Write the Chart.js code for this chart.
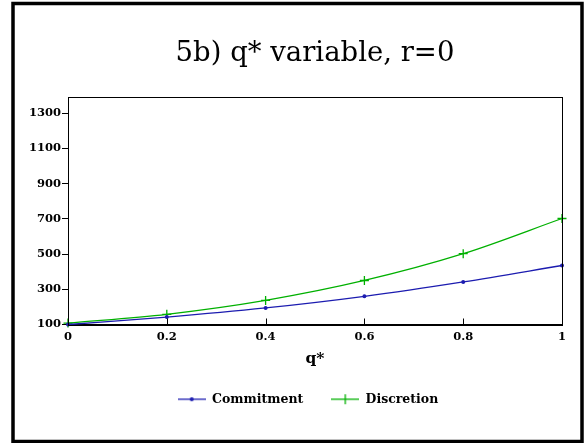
<!DOCTYPE html>
<html>
<head>
<meta charset="utf-8">
<script src="https://cdn.jsdelivr.net/npm/chart.js@4/dist/chart.umd.min.js"></script>
<style>
  html, body { margin: 0; padding: 0; background: #fff; }
  #wrap { width: 585px; height: 443px; }
</style>
</head>
<body>
<div id="wrap"><canvas id="chart" width="585" height="443"></canvas></div>
<script>
// данные
const qValues = [0, 0.2, 0.4, 0.6, 0.8, 1];
const commitment = [100, 142, 194, 260, 342, 435];
const discretion = [108, 158, 237, 350, 502, 702];
const xTicks = [0, 0.2, 0.4, 0.6, 0.8, 1];
const yTicks = [100, 300, 500, 700, 900, 1100, 1300];

const BLUE = '#1c1cb0';
const GREEN = '#00b000';
const SERIF = "'DejaVu Serif', 'Liberation Serif', serif";

// значок для легенды: линия с маркером
function legendIcon(color, marker) {
  const c = document.createElement('canvas');
  c.width = 28;
  c.height = 12;
  const g = c.getContext('2d');
  g.strokeStyle = color;
  g.lineWidth = 1.3;
  g.beginPath();
  g.moveTo(0, 6);
  g.lineTo(28, 6);
  g.stroke();
  if (marker === 'dot') {
    g.fillStyle = color;
    g.beginPath();
    g.arc(14, 6, 2, 0, Math.PI * 2);
    g.fill();
  } else {
    g.beginPath();
    g.moveTo(14, 1);
    g.lineTo(14, 11);
    g.stroke();
  }
  return c;
}

const framePlugin = {
  id: 'frame',
  afterLayout(chart) {
    // легенда в оригинале чуть левее центра области графика
    chart.legend.left -= 7;
    chart.legend.right -= 7;
  },
  beforeDraw(chart) {
    const ctx = chart.ctx;
    ctx.save();
    ctx.fillStyle = '#fff';
    ctx.fillRect(0, 0, chart.width, chart.height);
    ctx.strokeStyle = '#000';
    ctx.lineWidth = 3.5;
    ctx.strokeRect(13, 3.5, 569, 438);
    ctx.restore();
  },
  afterDraw(chart) {
    const { ctx, chartArea: a } = chart;
    const x = chart.scales.x;
    ctx.save();
    ctx.strokeStyle = '#000';
    ctx.lineWidth = 1;
    ctx.strokeRect(Math.round(a.left) + 0.5, Math.round(a.top) + 0.5,
      Math.round(a.right - a.left), Math.round(a.bottom - a.top));
    // засечки на оси x внутрь
    ctx.beginPath();
    xTicks.forEach(v => {
      const px = Math.round(x.getPixelForValue(v)) + 0.5;
      ctx.moveTo(px, a.bottom);
      ctx.lineTo(px, a.bottom - 6);
    });
    ctx.stroke();
    ctx.restore();
  }
};

new Chart(document.getElementById('chart'), {
  type: 'line',
  data: {
    datasets: [{
      label: 'Commitment',
      data: qValues.map((q, i) => ({ x: q, y: commitment[i] })),
      borderColor: BLUE,
      backgroundColor: BLUE,
      borderWidth: 1.3,
      pointStyle: 'circle',
      pointRadius: 2,
      pointBorderWidth: 0,
      cubicInterpolationMode: 'monotone'
    }, {
      label: 'Discretion',
      data: qValues.map((q, i) => ({ x: q, y: discretion[i] })),
      borderColor: GREEN,
      backgroundColor: GREEN,
      borderWidth: 1.3,
      pointStyle: 'cross',
      pointRadius: 4.5,
      pointBorderWidth: 1.3,
      cubicInterpolationMode: 'monotone'
    }]
  },
  options: {
    responsive: false,
    animation: false,
    events: [],
    clip: false,
    layout: { padding: { left: 28, right: 23, top: 0, bottom: 27.5 } },
    plugins: {
      title: {
        display: true,
        text: '5b) q* variable, r=0',
        color: '#000',
        fullSize: false,
        font: { family: SERIF, size: 27.5, weight: 'normal', lineHeight: 1.2 },
        padding: { top: 37, bottom: 27 }
      },
      legend: {
        position: 'bottom',
        fullSize: false,
        labels: {
          color: '#000',
          font: { family: SERIF, size: 12.5, weight: 'bold' },
          usePointStyle: true,
          pointStyleWidth: 28,
          padding: 28,
          generateLabels(chart) {
            return chart.data.datasets.map((ds, i) => ({
              text: ds.label,
              datasetIndex: i,
              fontColor: '#000',
              lineWidth: 0,
              strokeStyle: ds.borderColor,
              fillStyle: ds.borderColor,
              pointStyle: legendIcon(ds.borderColor, i === 0 ? 'dot' : 'plus')
            }));
          }
        }
      },
      tooltip: { enabled: false }
    },
    scales: {
      x: {
        type: 'linear',
        min: 0,
        max: 1,
        afterBuildTicks(s) { s.ticks = xTicks.map(v => ({ value: v })); },
        afterFit(s) { s.height = 40.5; },
        grid: { display: false, drawTicks: false },
        border: { display: true, color: '#000', width: 1 },
        ticks: {
          color: '#000',
          padding: 6,
          maxRotation: 0,
          font: { family: SERIF, size: 11.5, weight: 'bold' },
          callback: v => String(v)
        },
        title: {
          display: true,
          text: 'q*',
          color: '#000',
          font: { family: SERIF, size: 15.5, weight: 'bold', lineHeight: 1 },
          padding: { top: 0, bottom: -1.5 }
        }
      },
      y: {
        type: 'linear',
        min: 100,
        max: 1392,
        afterBuildTicks(s) { s.ticks = yTicks.map(v => ({ value: v })); },
        afterFit(s) { s.width = 40; },
        grid: { drawOnChartArea: false, drawTicks: true, tickLength: 6, color: '#000' },
        border: { display: true, color: '#000', width: 1 },
        ticks: {
          color: '#000',
          padding: 1,
          font: { family: SERIF, size: 11.5, weight: 'bold' },
          callback: v => String(v)
        }
      }
    }
  },
  plugins: [framePlugin]
});
</script>
</body>
</html>
